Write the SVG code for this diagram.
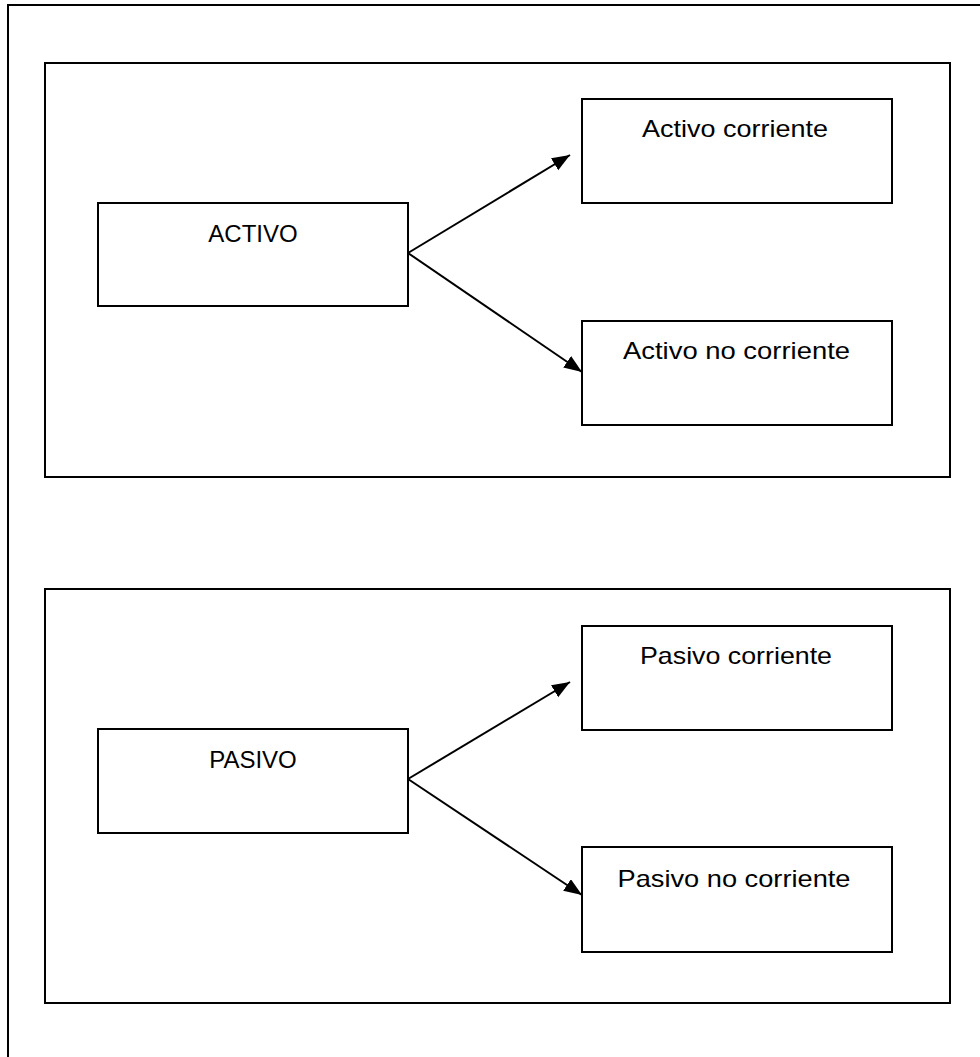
<svg xmlns="http://www.w3.org/2000/svg" width="980" height="1057" viewBox="0 0 980 1057">
<style>
.frame{fill:none;stroke:#000;stroke-width:2}
.box{fill:#fff;stroke:#000;stroke-width:2}
.lbl{font-family:"Liberation Sans",Arial,sans-serif;font-size:24px;fill:#000;text-anchor:middle}
.conn{stroke:#000;stroke-width:2;fill:none;marker-end:url(#ah)}
</style>
<defs>
<marker id="ah" markerUnits="userSpaceOnUse" markerWidth="20" markerHeight="16" refX="18" refY="7" orient="auto">
<path d="M0,0 L18,7 L0,14 Z" fill="#000"/>
</marker>
</defs>
<rect width="980" height="1057" fill="#fff"/>
<path class="frame" d="M8,1057 V5 H980"/>
<g id="grupo-activo">
<rect class="frame" x="45" y="63" width="905" height="414"/>
</g>
<g id="grupo-pasivo">
<rect class="frame" x="45" y="589" width="905" height="414"/>
</g>
<g id="activo">
<rect class="box" x="98" y="203" width="310" height="103"/>
<text class="lbl" x="253" y="242">ACTIVO</text>
</g>
<g id="activo-corriente">
<rect class="box" x="582" y="99" width="310" height="104"/>
<text class="lbl" x="735" y="137" textLength="186" lengthAdjust="spacingAndGlyphs">Activo corriente</text>
</g>
<g id="activo-no-corriente">
<rect class="box" x="582" y="321" width="310" height="104"/>
<text class="lbl" x="736.5" y="359" textLength="227" lengthAdjust="spacingAndGlyphs">Activo no corriente</text>
</g>
<g id="pasivo">
<rect class="box" x="98" y="729" width="310" height="104"/>
<text class="lbl" x="253" y="768">PASIVO</text>
</g>
<g id="pasivo-corriente">
<rect class="box" x="582" y="626" width="310" height="104"/>
<text class="lbl" x="736" y="664" textLength="192" lengthAdjust="spacingAndGlyphs">Pasivo corriente</text>
</g>
<g id="pasivo-no-corriente">
<rect class="box" x="582" y="847" width="310" height="105"/>
<text class="lbl" x="734" y="887" textLength="233" lengthAdjust="spacingAndGlyphs">Pasivo no corriente</text>
</g>
<g id="conectores">
<line class="conn" x1="408" y1="253" x2="570" y2="155"/>
<line class="conn" x1="408" y1="253" x2="582" y2="372"/>
<line class="conn" x1="408" y1="779" x2="570" y2="682"/>
<line class="conn" x1="408" y1="779" x2="582" y2="895"/>
</g>
</svg>
